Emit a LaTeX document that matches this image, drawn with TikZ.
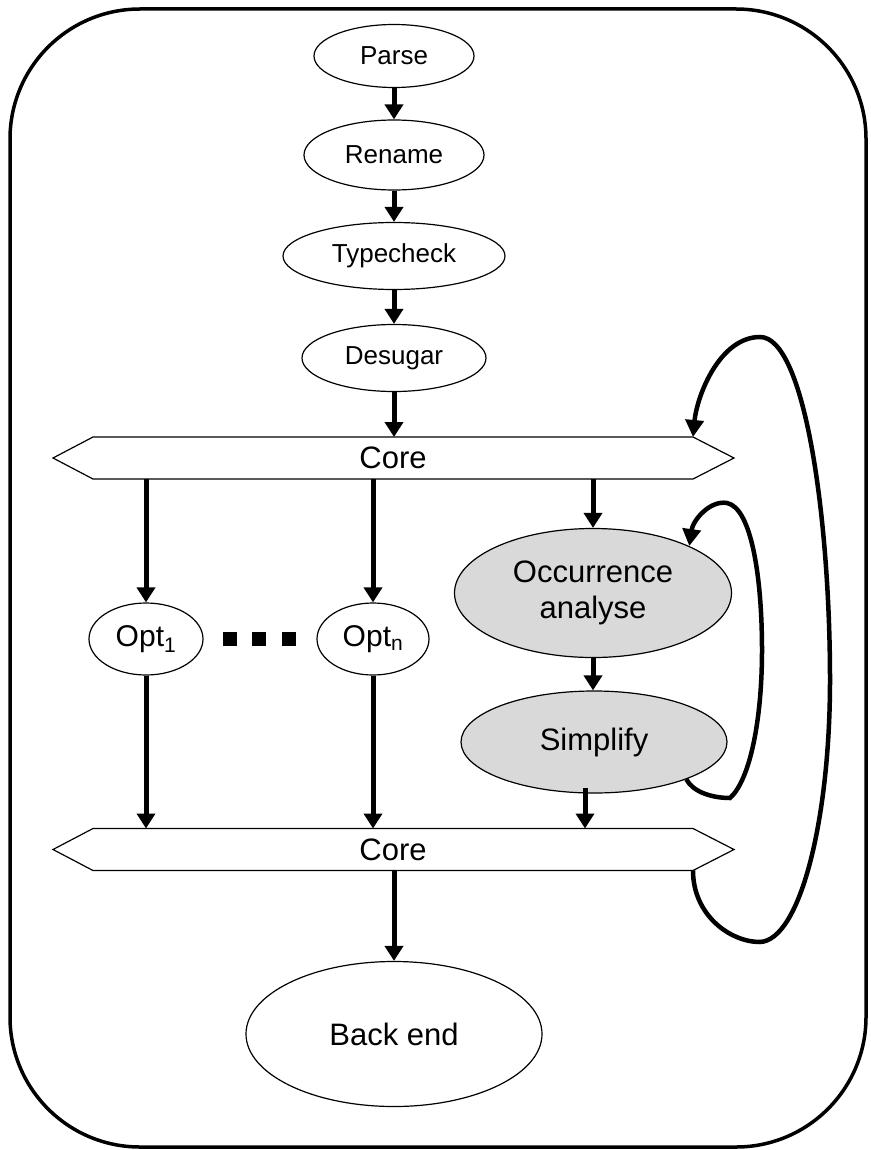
\documentclass[tikz,border=0pt]{standalone}
\usepackage{fontspec}
\setmainfont{Liberation Sans}
\usetikzlibrary{arrows.meta,shapes.geometric,calc}
\begin{document}
\begin{tikzpicture}[x=1pt,y=-1pt,
  stage/.style={draw, ellipse, line width=1.2pt, inner sep=0pt, font=\fontsize{26}{30}\selectfont},
  bigstage/.style={stage, font=\fontsize{31}{36}\selectfont},
  optstage/.style={stage, font=\fontsize{30}{34}\selectfont},
  graystage/.style={bigstage, fill=gray!30, align=center},
  coreband/.style={minimum width=600pt, minimum height=42pt, inner sep=0pt, outer sep=0pt, font=\fontsize{31}{36}\selectfont},
  hexline/.style={line width=1.2pt, line join=miter},
  flow/.style={line width=5pt, -{Triangle[width=18pt,length=15pt]}},
  loopline/.style={line width=4.5pt, -{Triangle[width=18pt,length=17pt]}},
  frame/.style={line width=3.5pt, rounded corners=130pt},
  dot/.style={fill=black}
]
\useasboundingbox (0,0) rectangle (870,1150);
\draw[frame] (10,9) rectangle (866,1147);

\node[stage, minimum width=160pt, minimum height=63pt] (parse) at (394,56) {Parse};
\node[stage, minimum width=180pt, minimum height=70pt] (rename) at (394,155) {Rename};
\node[stage, minimum width=222pt, minimum height=67pt] (typecheck) at (394,256) {Typecheck};
\node[stage, minimum width=184pt, minimum height=67pt] (desugar) at (394,358) {Desugar};

\node[coreband] (core1) at (393,458) {Core};
\node[coreband] (core2) at (393,849.5) {Core};
\draw[hexline] (core1.north west) -- (core1.north east) -- ($(core1.east)+(41,0)$) -- (core1.south east) -- (core1.south west) -- ($(core1.west)+(-40,0)$) -- cycle;
\draw[hexline] (core2.north west) -- (core2.north east) -- ($(core2.east)+(41,0)$) -- (core2.south east) -- (core2.south west) -- ($(core2.west)+(-40,0)$) -- cycle;

\node[optstage, minimum width=114pt, minimum height=72pt] (opt1) at (146,639) {Opt\textsubscript{1}};
\node[optstage, minimum width=112pt, minimum height=72pt] (optn) at (373,639) {Opt\textsubscript{n}};
\fill[dot] (223,632) rectangle (237,646);
\fill[dot] (252,632) rectangle (266,646);
\fill[dot] (282,632) rectangle (296,646);

\node[graystage, minimum width=277pt, minimum height=129pt] (occ) at (593,593) {Occurrence\\analyse};
\node[graystage, minimum width=266pt, minimum height=102pt] (simp) at (594,742) {Simplify};
\node[bigstage, minimum width=296pt, minimum height=145pt] (back) at (394,1034) {Back end};

\draw[flow] (parse.south) -- (rename.north);
\draw[flow] (rename.south) -- (typecheck.north);
\draw[flow] (typecheck.south) -- (desugar.north);
\draw[flow] (desugar.south) -- (desugar.south |- core1.north);
\draw[flow] (core1.south -| opt1.north) -- (opt1.north);
\draw[flow] (core1.south -| optn.north) -- (optn.north);
\draw[flow] (core1.south -| occ.north) -- (occ.north);
\draw[flow] (occ.south) -- (occ.south |- simp.north);
\coordinate (sb) at ($(simp.south)+(-9,-6)$);
\draw[flow] (sb) -- (sb |- core2.north);
\draw[flow] (opt1.south) -- (opt1.south |- core2.north);
\draw[flow] (optn.south) -- (optn.south |- core2.north);
\draw[flow] (core2.south -| back.north) -- (back.north);

\draw[loopline] (core2.south east) .. controls (693,915) and (730,942) .. (760,942)
  .. controls (800,940) and (830,820) .. (830,680)
  .. controls (830,520) and (805,337) .. (760,337)
  .. controls (720,337) and (697,395) .. (core1.north east);
\draw[loopline] (simp.-22) .. controls (693,792) and (712,798) .. (730,798)
  .. controls (750,780) and (762,720) .. (762,650)
  .. controls (762,580) and (752,508) .. (727,503)
  .. controls (710,500) and (693,520) .. (occ.26);
\end{tikzpicture}
\end{document}
